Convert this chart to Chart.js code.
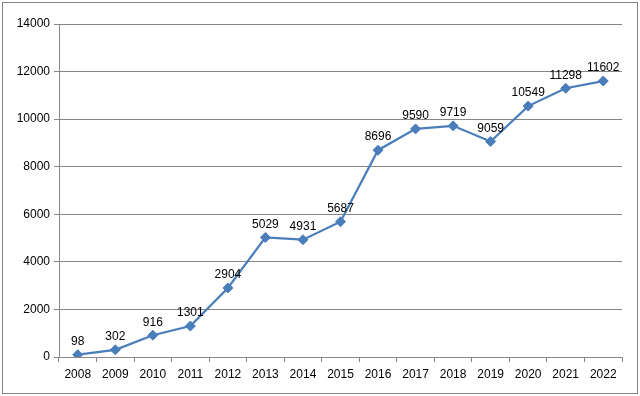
<!DOCTYPE html>
<html lang="en">
<head>
    <meta charset="UTF-8">
    <title>Line chart 2008-2022</title>
    <script src="https://cdn.jsdelivr.net/npm/chart.js"></script>
    <style>
        html, body { margin: 0; padding: 0; background: #fff; }
        #wrap { position: relative; width: 640px; height: 396px; }
    </style>
</head>
<body>
    <div id="wrap"><canvas id="lineChart" width="640" height="396"></canvas></div>

    <script>
        // chart data
        const years = ['2008', '2009', '2010', '2011', '2012', '2013', '2014', '2015',
            '2016', '2017', '2018', '2019', '2020', '2021', '2022'];
        const values = [98, 302, 916, 1301, 2904, 5029, 4931, 5687, 8696, 9590, 9719, 9059, 10549, 11298, 11602];
        const yTicks = [0, 2000, 4000, 6000, 8000, 10000, 12000, 14000];

        const lineColor = '#4a7ebb';
        const gridColor = '#868686';
        const fontFamily = '"Liberation Sans", Arial, sans-serif';

        // outer frame + value labels
        const framePlugin = {
            id: 'frame',
            beforeDraw(chart) {
                const ctx = chart.ctx;
                ctx.save();
                ctx.fillStyle = '#fff';
                ctx.fillRect(0, 0, chart.width, chart.height);
                ctx.strokeStyle = gridColor;
                ctx.lineWidth = 1;
                ctx.strokeRect(2.5, 2.5, 635, 391);
                ctx.restore();
            },
            afterDatasetsDraw(chart) {
                const ctx = chart.ctx;
                const meta = chart.getDatasetMeta(0);
                ctx.save();
                ctx.font = '12px ' + fontFamily;
                ctx.fillStyle = '#000';
                ctx.textAlign = 'center';
                ctx.textBaseline = 'bottom';
                meta.data.forEach((pt, i) => {
                    ctx.fillText(String(values[i]), pt.x, pt.y - 7);
                });
                ctx.restore();
            }
        };

        new Chart(document.getElementById('lineChart'), {
            type: 'line',
            data: {
                labels: years,
                datasets: [{
                    data: values,
                    borderColor: lineColor,
                    backgroundColor: lineColor,
                    borderWidth: 2.25,
                    pointStyle: 'rectRot',
                    pointRadius: 5,
                    pointBorderWidth: 1,
                    tension: 0
                }]
            },
            options: {
                responsive: false,
                animation: false,
                devicePixelRatio: 1,
                layout: { padding: { top: 24, right: 18, bottom: 0, left: 0 } },
                plugins: {
                    legend: { display: false },
                    tooltip: { enabled: false }
                },
                scales: {
                    x: {
                        offset: true,
                        grid: {
                            offset: true,
                            drawOnChartArea: false,
                            drawTicks: true,
                            tickLength: 5,
                            color: gridColor
                        },
                        border: { display: true, color: gridColor },
                        ticks: {
                            color: '#000',
                            font: { family: fontFamily, size: 12 },
                            padding: 5,
                            maxRotation: 0,
                            autoSkip: false
                        },
                        afterFit(scale) { scale.height = 39; }
                    },
                    y: {
                        min: 0,
                        max: 14000,
                        afterBuildTicks(scale) {
                            scale.ticks = yTicks.map(v => ({ value: v }));
                        },
                        grid: {
                            color: gridColor,
                            drawTicks: true,
                            tickLength: 5
                        },
                        border: { display: true, color: gridColor },
                        ticks: {
                            color: '#000',
                            font: { family: fontFamily, size: 12 },
                            padding: 4,
                            callback: v => String(v)
                        },
                        afterFit(scale) { scale.width = 59; }
                    }
                }
            },
            plugins: [framePlugin]
        });
    </script>
</body>
</html>
